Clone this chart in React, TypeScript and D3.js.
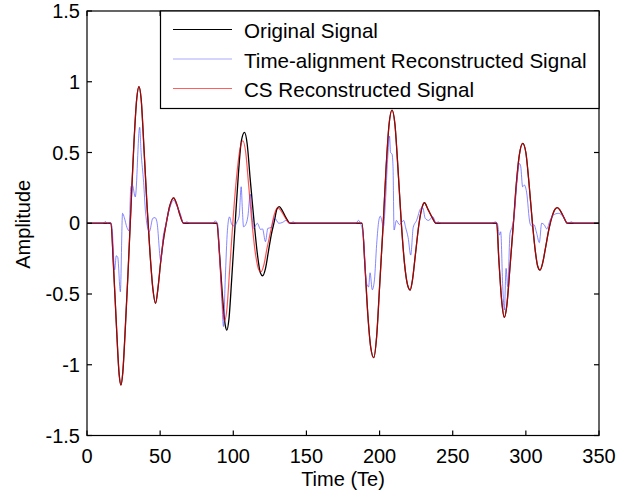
import React, { useEffect, useRef } from 'react';
import * as d3 from 'd3';

// [time (Te), amplitude]; flat zero between the pulses
const origPulse1: [number, number][] = [
  [16.4, 0], [18, -0.28], [20, -0.7], [22, -1.07], [23.2, -1.143], [24.5, -1.05], [26, -0.78], [28, -0.36],
  [30, 0.1], [32, 0.55], [34, 0.88], [35.5, 0.965], [37, 0.88], [39, 0.52], [41, 0.13], [43, -0.2],
  [45, -0.46], [46.9, -0.566], [48.5, -0.46], [50.5, -0.26], [52.5, -0.1], [54.2, 0], [56.5, 0.12],
  [59.2, 0.18], [61.5, 0.13], [63.5, 0.06], [66, 0],
];
const origPulse2: [number, number][] = [
  [88.8, 0], [90.5, -0.2], [92.5, -0.5], [94.5, -0.72], [95.6, -0.755], [97, -0.68], [99, -0.38],
  [101.3, 0], [103.5, 0.35], [105.5, 0.58], [107.7, 0.642], [109.5, 0.56], [111.5, 0.32], [114.3, 0],
  [116.5, -0.22], [118.5, -0.35], [120, -0.371], [122, -0.32], [124, -0.2], [126, -0.08], [128.2, 0.02],
  [129.8, 0.1], [131.4, 0.117], [133.5, 0.09], [136, 0.04], [138.9, 0],
];
const origPulse3: [number, number][] = [
  [188, 0], [190, -0.3], [192, -0.65], [194, -0.88], [196, -0.95], [198, -0.8], [200, -0.45], [202.5, 0],
  [204.5, 0.4], [206.5, 0.7], [208.5, 0.8], [210.5, 0.7], [212.5, 0.4], [215, -0.02], [217, -0.28],
  [219, -0.43], [220.9, -0.472], [222.5, -0.4], [224.5, -0.22], [227, 0], [229, 0.11], [230.7, 0.145],
  [233, 0.1], [236, 0.04], [238.6, 0],
];
const origPulse4: [number, number][] = [
  [280.1, 0], [281.5, -0.25], [283.5, -0.55], [285.3, -0.665], [287, -0.58], [289, -0.33], [291.5, 0],
  [293.5, 0.28], [295.5, 0.48], [297.9, 0.565], [300, 0.5], [302, 0.3], [304.5, 0], [306.5, -0.2],
  [308, -0.3], [309.7, -0.331], [311.5, -0.28], [313.5, -0.17], [316, -0.03], [318, 0.05], [320, 0.1],
  [321.5, 0.11], [323.5, 0.09], [326, 0.04], [328.4, 0],
];
// CS reconstruction: same as the original except the second pulse
const csPulse2: [number, number][] = [
  [88.8, 0], [90.5, -0.22], [92.5, -0.55], [94, -0.69], [95.5, -0.62], [97.5, -0.33], [100, 0.05],
  [102, 0.3], [104.5, 0.52], [106.5, 0.583], [108.5, 0.5], [110.5, 0.27], [113, -0.02], [115.5, -0.24],
  [117.5, -0.33], [118.9, -0.343], [121, -0.29], [123, -0.18], [125.5, -0.06], [128, 0.06], [130.3, 0.11],
  [132.5, 0.09], [135.5, 0.04], [138.5, 0],
];
const taPulse1: [number, number][] = [
  [11, 0], [12.5, 0.012], [14, 0], [15.5, 0.005], [17, -0.02], [18.9, -0.33], [20, -0.23], [21, -0.24],
  [22.8, -0.484], [24.3, 0.07], [25.5, 0.04], [27.3, -0.03], [28.7, -0.053], [30, 0.258], [31, 0.27],
  [33, 0.186], [36, 0.678], [37, 0.5], [38.7, 0.29], [40, 0.08], [42.6, -0.06], [45, 0.035], [46.5, 0.04],
  [47.8, 0.01], [50.5, -0.27], [52, -0.1], [53.5, -0.025], [56.5, 0.105], [59.2, 0.163], [61.5, 0.12],
  [63.7, 0.07], [66, 0], [68.3, 0.01], [70, 0],
];
const taPulse2: [number, number][] = [
  [86, 0], [87.6, 0.017], [89.3, -0.006], [90.5, -0.2], [92, -0.5], [93.3, -0.73], [94.5, -0.4], [96, -0.05],
  [97.4, 0.045], [99, -0.01], [100.9, -0.02], [102.5, 0.01], [104, 0.05], [105.4, 0.258], [106.2, 0.1],
  [107, -0.025], [108.5, -0.01], [110, 0.05], [111.6, 0.206], [112.8, 0.05], [113.9, -0.036], [116.4, 0],
  [118.7, -0.044], [120, -0.04], [122, -0.13], [123.6, -0.036], [126, -0.03], [128.1, 0.04], [131.1, 0],
  [133.5, 0.005], [136.1, 0.02], [138.4, 0], [141, 0.01], [143, 0],
];
const taPulse3: [number, number][] = [
  [184, 0], [185.5, 0.02], [187, 0], [189, -0.1], [191, -0.42], [192.5, -0.45], [193.5, -0.35], [195, -0.47],
  [196.5, -0.4], [198, -0.15], [199.5, 0.02], [200.5, 0.05], [202.7, -0.024], [204, 0.15], [205.5, 0.45],
  [206.8, 0.616], [207.5, 0.5], [208.5, 0.49], [209.2, 0.4], [209.9, -0.048], [211.5, 0.02], [213.5, -0.01],
  [216.5, 0.02], [217.8, -0.03], [219.5, -0.1], [221.3, -0.225], [223, -0.03], [225.3, 0.02], [228.2, 0.105],
  [229.5, 0.11], [231.2, 0.035], [233.5, 0.02], [236.4, 0.046], [238.6, 0], [240, 0.01], [242, 0],
];
const taPulse4: [number, number][] = [
  [277, 0], [279.1, 0.01], [280.5, 0], [281.9, -0.084], [282.8, -0.06], [284.2, -0.448], [285.3, -0.613],
  [286.5, -0.319], [287.6, -0.448], [289.2, -0.07], [290.5, -0.03], [292, 0.05], [294, 0.3], [295.6, 0.423],
  [296.5, 0.4], [297.8, 0.258], [299, 0.27], [300.5, 0.22], [302.8, 0], [304, -0.02], [305.5, -0.01],
  [307.4, -0.07], [309.2, -0.137], [310.8, 0], [312.5, -0.01], [314.3, -0.04], [316.5, 0.02], [318.8, 0.058],
  [322.2, 0.07], [325.6, 0.047], [328.4, 0], [331.2, 0.01], [333, 0],
];

const xTicks = [0, 50, 100, 150, 200, 250, 300, 350];
const yTicks = [-1.5, -1, -0.5, 0, 0.5, 1, 1.5];
const legendLabels = ['Original Signal', 'Time-alignment Reconstructed Signal', 'CS Reconstructed Signal'];

const FONT = '"Liberation Sans", Arial, Helvetica, sans-serif';
const FS = 20;

export default function App() {
  const ref = useRef<SVGSVGElement>(null);

  useEffect(() => {
    const svg = d3.select(ref.current);
    svg.selectAll('*').remove();

    const left = 87, right = 599, top = 11, bottom = 435.5;
    const x = d3.scaleLinear().domain([0, 350]).range([left, right]);
    const y = d3.scaleLinear().domain([-1.5, 1.5]).range([bottom, top]);

    const wrap = (...parts: [number, number][][]) => [[0, 0], ...parts.flat(), [350, 0]] as [number, number][];
    const original = wrap(origPulse1, origPulse2, origPulse3, origPulse4);
    const cs = wrap(origPulse1, csPulse2, origPulse3, origPulse4);
    const ta = wrap(taPulse1, taPulse2, taPulse3, taPulse4);

    const line = d3.line<[number, number]>()
      .x(d => x(d[0]))
      .y(d => y(d[1]))
      .curve(d3.curveMonotoneX);

    svg.append('rect').attr('width', 627).attr('height', 494).attr('fill', '#fff');

    const plot = svg.append('g');
    plot.append('path').attr('d', line(original)).attr('fill', 'none').attr('stroke', '#000').attr('stroke-width', 1.3);
    plot.append('path').attr('d', line(ta)).attr('fill', 'none').attr('stroke', '#4d4dff').attr('stroke-width', 0.9).attr('stroke-opacity', 0.75);
    plot.append('path').attr('d', line(cs)).attr('fill', 'none').attr('stroke', '#ff0000').attr('stroke-width', 1.2).attr('stroke-opacity', 0.68);

    // axes box and inward ticks on all sides
    const ax = svg.append('g').attr('stroke', '#000').attr('stroke-width', 1.2);
    ax.append('rect').attr('x', left).attr('y', top).attr('width', right - left).attr('height', bottom - top).attr('fill', 'none');
    xTicks.forEach(t => {
      ax.append('line').attr('x1', x(t)).attr('x2', x(t)).attr('y1', bottom).attr('y2', bottom - 5);
      ax.append('line').attr('x1', x(t)).attr('x2', x(t)).attr('y1', top).attr('y2', top + 5);
    });
    yTicks.forEach(t => {
      ax.append('line').attr('x1', left).attr('x2', left + 5).attr('y1', y(t)).attr('y2', y(t));
      ax.append('line').attr('x1', right).attr('x2', right - 5).attr('y1', y(t)).attr('y2', y(t));
    });

    const txt = svg.append('g').attr('font-family', FONT).attr('font-size', FS).attr('fill', '#000');
    xTicks.forEach(t => {
      txt.append('text').attr('x', x(t)).attr('y', 462.5).attr('text-anchor', 'middle').text(String(t));
    });
    yTicks.forEach(t => {
      txt.append('text').attr('x', left - 7).attr('y', y(t) + 7.2).attr('text-anchor', 'end').text(String(t));
    });
    txt.append('text').attr('x', (left + right) / 2).attr('y', 486).attr('text-anchor', 'middle').text('Time (Te)');
    txt.append('text').attr('transform', `translate(29.5, ${(top + bottom) / 2 + 1}) rotate(-90)`)
      .attr('text-anchor', 'middle').text('Amplitude');

    // legend
    const lg = svg.append('g');
    lg.append('rect').attr('x', 160.5).attr('y', top).attr('width', right - 160.5).attr('height', 97.5)
      .attr('fill', '#fff').attr('stroke', '#000').attr('stroke-width', 1.2);
    const rows = [29.5, 59, 88.5];
    const styles = [
      { stroke: '#000', w: 1, o: 1 },
      { stroke: '#4d4dff', w: 0.9, o: 0.55 },
      { stroke: '#ff0000', w: 0.9, o: 0.7 },
    ];
    legendLabels.forEach((label, i) => {
      lg.append('line').attr('x1', 173).attr('x2', 232).attr('y1', rows[i]).attr('y2', rows[i])
        .attr('stroke', styles[i].stroke).attr('stroke-width', styles[i].w).attr('stroke-opacity', styles[i].o);
      lg.append('text').attr('x', 244).attr('y', rows[i] + 8.5).attr('font-family', FONT).attr('font-size', 20.6)
        .text(label);
    });
  }, []);

  return (
    <svg ref={ref} width={627} height={494} style={{ position: 'absolute', left: 0, top: 0 }} />
  );
}
